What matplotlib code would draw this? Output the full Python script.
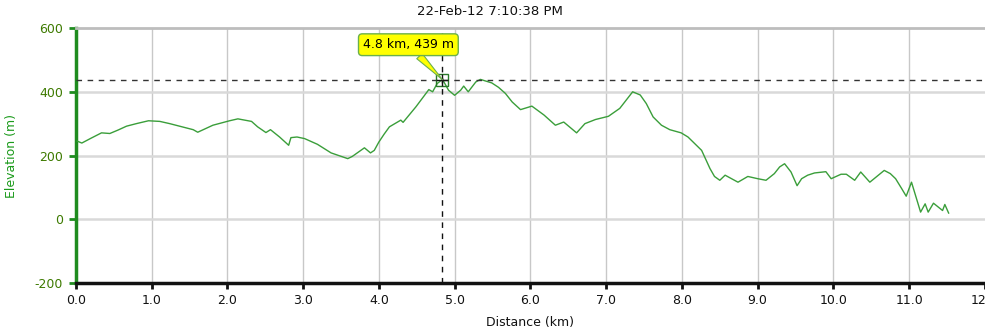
import numpy as np
import matplotlib
matplotlib.use('Agg')
import matplotlib.pyplot as plt

# elevation profile
distance_km = [0.02, 0.08, 0.20, 0.34, 0.45, 0.56, 0.67, 0.80, 0.96, 1.11, 1.24, 1.37,
               1.55, 1.61, 1.81, 2.03, 2.14, 2.32, 2.40, 2.51, 2.57, 2.69, 2.81, 2.84,
               2.92, 3.02, 3.19, 3.37, 3.59, 3.65, 3.81, 3.89, 3.94, 4.00, 4.07, 4.14,
               4.29, 4.32, 4.49, 4.66, 4.71, 4.77, 4.84, 4.92, 5.00, 5.08, 5.12, 5.18,
               5.28, 5.34, 5.49, 5.58, 5.67, 5.76, 5.87, 6.02, 6.18, 6.33, 6.44, 6.61,
               6.72, 6.86, 7.03, 7.18, 7.35, 7.45, 7.53, 7.62, 7.73, 7.84, 7.99, 8.08,
               8.17, 8.26, 8.32, 8.37, 8.43, 8.50, 8.57, 8.74, 8.87, 9.00, 9.11, 9.22,
               9.29, 9.355, 9.44, 9.52, 9.58, 9.66, 9.75, 9.90, 9.97, 10.10, 10.17, 10.28,
               10.36, 10.48, 10.67, 10.75, 10.82, 10.90, 10.96, 11.03, 11.15, 11.21, 11.25,
               11.32, 11.44, 11.47, 11.52]
elevation_m = [246, 240, 255, 272, 270, 281, 293, 301, 310, 308, 301, 293,
               282, 274, 296, 310, 316, 308, 291, 273, 282, 259, 233, 257,
               259, 254, 236, 209, 191, 198, 225, 209, 217, 243, 268, 291,
               312, 305, 354, 408, 401, 427, 440, 406, 390, 406, 419, 401,
               432, 440, 429, 415, 396, 369, 345, 356, 328, 296, 306, 272,
               301, 314, 324, 349, 401, 391, 364, 322, 296, 282, 272, 259,
               238, 217, 186, 160, 135, 123, 139, 117, 135, 128, 123, 144,
               165, 175, 149, 106, 128, 139, 146, 150, 128, 142, 142, 123,
               149, 117, 154, 144, 128, 97, 73, 117, 23, 49, 23,
               51, 28, 47, 20]

cursor_km = 4.84
cursor_m = 439
cursor_label = '4.8 km, 439 m'
title_text = '22-Feb-12 7:10:38 PM'

plt.rcParams['font.family'] = ['DejaVu Sans']
plt.rcParams['axes.unicode_minus'] = False

fig = plt.figure(figsize=(9.85, 3.35), dpi=100)
ax = fig.add_axes([0.0769, 0.155, 0.9231, 0.760])

green = '#1f8c1f'
ax.plot(distance_km, elevation_m, color='#3a9e3a', lw=1.0, zorder=3)

ax.set_xlim(0, 11.965)
ax.set_ylim(-200, 600)
ax.set_xticks(np.arange(0, 12.5, 1.0))
ax.set_xticklabels([f'{v:.1f}' for v in np.arange(0, 12.5, 1.0)])
ax.set_yticks([-200, 0, 200, 400, 600])

# grid
for v in np.arange(1, 12):
    ax.axvline(v, color='#c8c8c8', lw=1.0, zorder=1)
for v in [0, 200, 400]:
    ax.axhline(v, color='#d9d9d9', lw=1.8, zorder=1)

# crosshair
ax.axhline(cursor_m, color='#333333', lw=1.0, dashes=(4, 4), zorder=4)
ax.axvline(cursor_km, color='#111111', lw=1.0, dashes=(4, 4), zorder=4)
ax.plot([cursor_km], [cursor_m], marker='s', ms=8, mfc='none', mec='#2a7a2a', mew=1.0, zorder=5)
ax.plot([cursor_km], [cursor_m], marker='+', ms=8, color='#111111', mew=1.0, zorder=5)

ax.annotate(cursor_label, xy=(cursor_km, cursor_m), xytext=(4.39, 549),
            ha='center', va='center', fontsize=9, color='black', zorder=6,
            bbox=dict(boxstyle='round,pad=0.35,rounding_size=0.3', fc='#ffff00', ec='#6ab04c', lw=1.0),
            arrowprops=dict(arrowstyle='wedge,tail_width=0.6,shrink_factor=0.5', fc='#ffff00',
                            ec='#6ab04c', lw=0.8, shrinkA=0, shrinkB=0))

# spines
ax.spines['right'].set_visible(False)
ax.spines['top'].set_color('#bdbdbd')
ax.spines['top'].set_linewidth(2)
ax.spines['left'].set_color(green)
ax.spines['left'].set_linewidth(2.5)
ax.spines['bottom'].set_color('#111111')
ax.spines['bottom'].set_linewidth(2.5)

ax.tick_params(axis='y', colors=green, labelcolor='#3d7a00', length=5, width=2, labelsize=9, pad=4)
ax.tick_params(axis='x', colors='#111111', labelcolor='#111111', length=4, width=2, labelsize=9, pad=4)

ax.set_xlabel('Distance (km)', fontsize=9, color='#111111', labelpad=6)
ax.set_ylabel('Elevation (m)', fontsize=9, color='#1a9a1a', labelpad=12)
fig.text(0.497, 0.965, title_text, ha='center', va='center', fontsize=9.5, color='#111111')

fig.savefig('out.png', dpi=100)
